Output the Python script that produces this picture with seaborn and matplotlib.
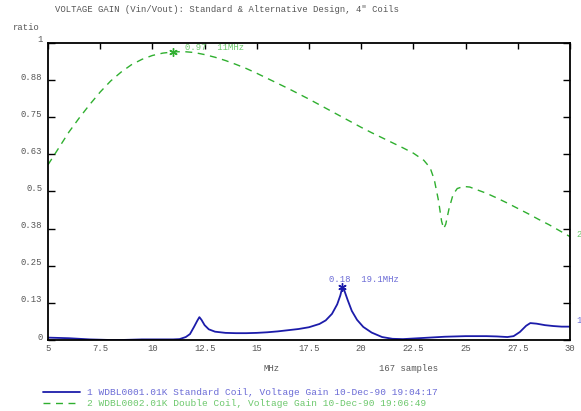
import numpy as np
import pandas as pd
import matplotlib
matplotlib.use("Agg")
import matplotlib.pyplot as plt
import matplotlib.transforms as mtransforms
import seaborn as sns

# ---- data ----
std_freq = [5.0, 5.5, 6.0, 6.5, 7.0, 7.5, 8.0, 8.5, 9.0, 9.5, 10.0, 10.5, 11.0, 11.3, 11.6, 11.8,
            12.0, 12.15, 12.25, 12.35, 12.5, 12.7, 13.0, 13.5, 14.0, 14.5, 15.0, 15.5, 16.0, 16.5,
            17.0, 17.5, 18.0, 18.3, 18.6, 18.85, 19.0, 19.1, 19.2, 19.35, 19.55, 19.8, 20.1, 20.5,
            21.0, 21.5, 22.0, 22.5, 23.0, 23.5, 24.0, 24.5, 25.0, 25.5, 26.0, 26.5, 27.0, 27.3,
            27.6, 27.9, 28.1, 28.4, 28.8, 29.2, 29.6, 30.0]
std_gain = [0.008, 0.007, 0.006, 0.004, 0.002, 0.001, 0.0, 0.0, 0.001, 0.002, 0.002, 0.002, 0.002,
            0.003, 0.010, 0.020, 0.045, 0.065, 0.077, 0.068, 0.050, 0.036, 0.028, 0.024, 0.023,
            0.023, 0.024, 0.026, 0.029, 0.033, 0.037, 0.043, 0.054, 0.066, 0.088, 0.120, 0.150,
            0.178, 0.165, 0.135, 0.098, 0.068, 0.044, 0.025, 0.010, 0.004, 0.003, 0.005, 0.007,
            0.009, 0.011, 0.012, 0.013, 0.013, 0.013, 0.012, 0.010, 0.013, 0.027, 0.048, 0.057,
            0.055, 0.050, 0.047, 0.045, 0.045]

dbl_freq = [5.0, 5.5, 6.0, 6.5, 7.0, 7.5, 8.0, 8.5, 9.0, 9.5, 10.0, 10.5, 11.0, 11.5, 12.0, 12.5,
            13.0, 13.5, 14.0, 14.5, 15.0, 15.5, 16.0, 16.5, 17.0, 17.5, 18.0, 18.5, 19.0, 19.5,
            20.0, 20.5, 21.0, 21.5, 22.0, 22.5, 23.0, 23.3, 23.5, 23.7, 23.85, 23.95, 24.05, 24.2,
            24.4, 24.6, 24.9, 25.2, 25.5, 26.0, 26.5, 27.0, 27.5, 28.0, 28.5, 29.0, 29.5, 30.0]
dbl_gain = [0.590, 0.645, 0.700, 0.748, 0.793, 0.835, 0.872, 0.902, 0.927, 0.945, 0.958, 0.966,
            0.970, 0.971, 0.968, 0.961, 0.952, 0.941, 0.928, 0.914, 0.898, 0.881, 0.864, 0.847,
            0.829, 0.811, 0.792, 0.773, 0.754, 0.735, 0.716, 0.698, 0.681, 0.664, 0.647, 0.629,
            0.605, 0.580, 0.540, 0.470, 0.400, 0.375, 0.390, 0.440, 0.490, 0.510, 0.517, 0.515,
            0.507, 0.494, 0.478, 0.461, 0.443, 0.425, 0.406, 0.388, 0.368, 0.348]

x_ticks = [5, 7.5, 10, 12.5, 15, 17.5, 20, 22.5, 25, 27.5, 30]
x_ticklabels = ["5", "7.5", "10", "12.5", "15", "17.5", "20", "22.5", "25", "27.5", "30"]
y_ticks = [0, 0.125, 0.25, 0.375, 0.5, 0.625, 0.75, 0.875, 1.0]
y_ticklabels = ["0", "0.13", "0.25", "0.38", "0.5", "0.63", "0.75", "0.88", "1"]

peak_std = (19.1, 0.178, "0.18  19.1MHz")
peak_dbl = (11.0, 0.97, "0.97  11MHz")

legend_std = "1 WDBL0001.01K Standard Coil, Voltage Gain 10-Dec-90 19:04:17"
legend_dbl = "2 WDBL0002.01K Double Coil, Voltage Gain 10-Dec-90 19:06:49"
title = 'VOLTAGE GAIN (Vin/Vout): Standard & Alternative Design, 4" Coils'

# ---- style ----
sns.set_theme(style="white")
plt.rcParams['font.family'] = ['Liberation Mono', 'DejaVu Sans Mono']
FS = 6.4
GRAY = "#555555"
BLUE = "#1c1caa"
BLUE_T = "#6b6bd6"
GREEN = "#2faf2f"
GREEN_T = "#6cc86c"

W, H = 581, 411
fig = plt.figure(figsize=(W / 100, H / 100), dpi=100)
ax = fig.add_axes([48 / W, 1 - 340 / H, (570 - 48) / W, (340 - 43) / H])

df_std = pd.DataFrame({"f": std_freq, "g": std_gain})
df_dbl = pd.DataFrame({"f": dbl_freq, "g": dbl_gain})
sns.lineplot(data=df_std, x="f", y="g", ax=ax, color=BLUE, linewidth=1.3)
sns.lineplot(data=df_dbl, x="f", y="g", ax=ax, color=GREEN, linewidth=1.0)
ax.lines[-1].set_dashes((5, 4))

ax.set_xlim(5, 30)
ax.set_ylim(0, 1)
ax.set_xlabel("")
ax.set_ylabel("")
ax.set_xticks(x_ticks)
ax.set_xticklabels(x_ticklabels)
ax.set_yticks(y_ticks)
ax.set_yticklabels(y_ticklabels)
ax.tick_params(axis="x", which="both", bottom=False, top=True, direction="in", length=4,
               width=1, labelsize=FS, labelcolor=GRAY, pad=3, color="black")
ax.tick_params(axis="y", which="both", left=True, right=True, direction="in", length=5,
               width=1, labelsize=FS, labelcolor=GRAY, pad=4, color="black")
off = mtransforms.ScaledTranslation(0, 4 / 100, fig.dpi_scale_trans)
for lab in ax.get_yticklabels():
    lab.set_transform(lab.get_transform() + off)
for sp in ax.spines.values():
    sp.set_visible(True)
    sp.set_color("black")
    sp.set_linewidth(1.3)

# peak markers
for (px, py, txt), lc, tc, dx, dy in [(peak_dbl, GREEN, GREEN_T, 12, 4), (peak_std, BLUE, BLUE_T, -13, 8)]:
    ax.plot([px], [py], marker=(6, 2, 0), markersize=6, color=lc, mew=1.0, linestyle="none")
    ax.annotate(txt, (px, py), xytext=(dx, dy), textcoords="offset pixels", fontsize=FS,
                color=tc, ha="left", va="center")

# series end labels
ax.annotate("1", (std_freq[-1], std_gain[-1]), xytext=(6, 6), textcoords="offset pixels",
            fontsize=FS, color=BLUE_T, ha="left", va="center", annotation_clip=False)
ax.annotate("2", (dbl_freq[-1], dbl_gain[-1]), xytext=(6, 2), textcoords="offset pixels",
            fontsize=FS, color=GREEN_T, ha="left", va="center", annotation_clip=False)

def fx(x):
    return x / W

def fy(y):
    return 1 - y / H

fig.text(fx(55), fy(9), title, fontsize=FS, color=GRAY, ha="left", va="center")
fig.text(fx(13), fy(28), "ratio", fontsize=FS, color=GRAY, ha="left", va="center")
fig.text(fx(272), fy(368), "MHz", fontsize=FS, color=GRAY, ha="center", va="center")
fig.text(fx(409), fy(368), "167 samples", fontsize=FS, color=GRAY, ha="center", va="center")

# legend
fig.lines.append(plt.Line2D([fx(43), fx(80)], [fy(392), fy(392)], transform=fig.transFigure,
                            color=BLUE, linewidth=1.3))
fig.lines.append(plt.Line2D([fx(43), fx(80)], [fy(403), fy(403)], transform=fig.transFigure,
                            color=GREEN, linewidth=1.0, dashes=(5, 4)))
fig.text(fx(87), fy(392), legend_std, fontsize=6.8, color=BLUE_T, ha="left", va="center")
fig.text(fx(87), fy(403), legend_dbl, fontsize=6.8, color=GREEN_T, ha="left", va="center")

fig.savefig("out.png", dpi=100)
